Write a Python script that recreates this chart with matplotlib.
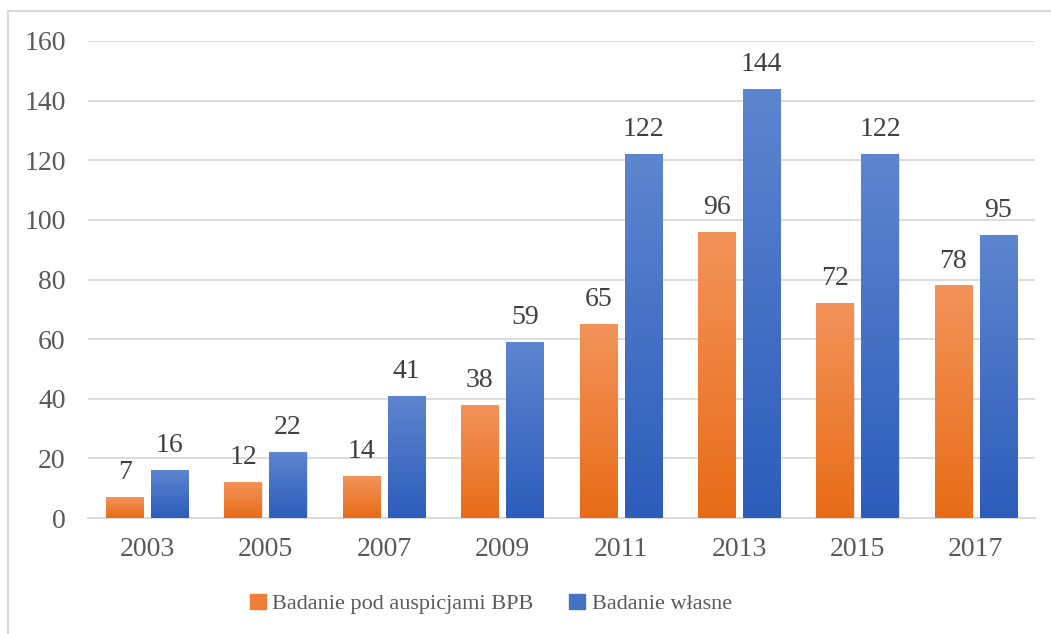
import numpy as np
import matplotlib.pyplot as plt
from matplotlib.patches import Rectangle
from matplotlib.colors import LinearSegmentedColormap

years = ["2003", "2005", "2007", "2009", "2011", "2013", "2015", "2017"]
bpb = [7, 12, 14, 38, 65, 96, 72, 78]
own = [16, 22, 41, 59, 122, 144, 122, 95]
series_names = ["Badanie pod auspicjami BPB", "Badanie własne"]

plt.rcParams['font.family'] = ['Liberation Serif', 'DejaVu Serif']

orange_cm = LinearSegmentedColormap.from_list("o", ["#E86C17", "#F3935A"])
blue_cm = LinearSegmentedColormap.from_list("b", ["#2C5DBB", "#5E85CF"])

fig = plt.figure(figsize=(10.51, 6.34), dpi=100)
ax = fig.add_axes([88 / 1051, 116 / 634, 947 / 1051, 477 / 634])

# outer chart frame
fig.patches.append(Rectangle((8 / 1051, -0.1), 1.2, (634 - 11) / 634 + 0.1,
                             transform=fig.transFigure, fill=False,
                             edgecolor="#D9D9D9", linewidth=1.5))

x = np.arange(len(years))
w = 0.315
off = 0.19
grad = np.linspace(0, 1, 256).reshape(-1, 1)


def gradient_bars(xs, vals, cmap, color):
    bars = ax.bar(xs, vals, w, color=color, zorder=2)
    for b in bars:
        x0, y0 = b.get_x(), b.get_y()
        bw, bh = b.get_width(), b.get_height()
        # soft shadow behind each bar
        ax.add_patch(Rectangle((x0 + 0.008, y0), bw, bh - 0.3, color="#000000",
                               alpha=0.12, zorder=1.5, linewidth=0))
        im = ax.imshow(grad, cmap=cmap, aspect="auto", origin="lower",
                       extent=(x0, x0 + bw, y0, y0 + bh), zorder=3)
        im.set_clip_path(b)
    return bars


gradient_bars(x - off, bpb, orange_cm, "#EE7F37")
gradient_bars(x + off, own, blue_cm, "#4472C4")

for xi, v in zip(x - off, bpb):
    ax.text(xi, v + 4, str(v), ha="center", va="bottom", fontsize=20, color="#404040")
for xi, v in zip(x + off, own):
    ax.text(xi, v + 4, str(v), ha="center", va="bottom", fontsize=20, color="#404040")

ax.set_xlim(-0.5, len(years) - 0.5)
ax.set_ylim(0, 160)
ax.set_yticks(range(0, 161, 20))
ax.set_xticks(x)
ax.set_xticklabels(years)
ax.yaxis.grid(True, color="#D9D9D9", linewidth=1.3, zorder=0)
ax.set_axisbelow(True)
for s in ax.spines.values():
    s.set_visible(False)
ax.spines["bottom"].set_visible(True)
ax.spines["bottom"].set_color("#D9D9D9")
ax.spines["bottom"].set_linewidth(1.3)
ax.tick_params(length=0, labelsize=20, colors="#595959")
ax.tick_params(axis="x", pad=14)
ax.tick_params(axis="y", pad=16)

handles = [Rectangle((0, 0), 1, 1, color="#EE7F37"), Rectangle((0, 0), 1, 1, color="#4472C4")]
fig.legend(handles, series_names, loc="center", bbox_to_anchor=(491 / 1051, 1 - 604 / 634),
           ncol=2, frameon=False, fontsize=16, handlelength=0.7, handleheight=0.7,
           handletextpad=0.3, columnspacing=1.6, labelcolor="#595959")

fig.savefig("out.png", dpi=100)
